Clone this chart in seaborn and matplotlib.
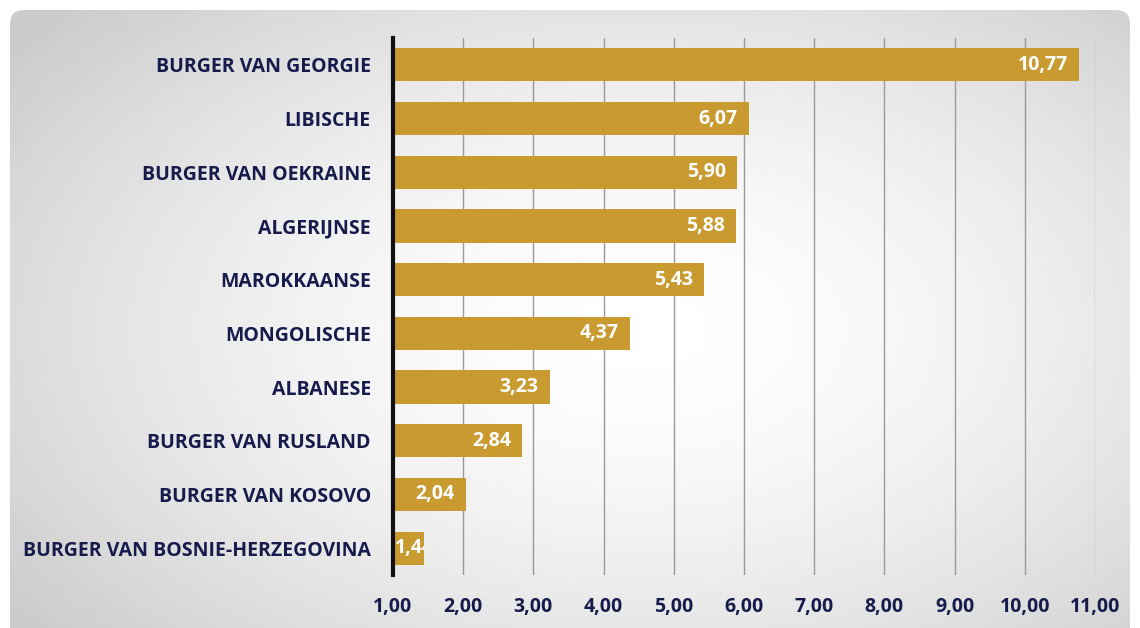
import numpy as np
import pandas as pd
import matplotlib
matplotlib.use("Agg")
import matplotlib.pyplot as plt
from matplotlib.patches import FancyBboxPatch
import seaborn as sns

# Data: naturalisation rates per nationality
categories = [
    "BURGER VAN GEORGIE",
    "LIBISCHE",
    "BURGER VAN OEKRAINE",
    "ALGERIJNSE",
    "MAROKKAANSE",
    "MONGOLISCHE",
    "ALBANESE",
    "BURGER VAN RUSLAND",
    "BURGER VAN KOSOVO",
    "BURGER VAN BOSNIE-HERZEGOVINA",
]
values = [10.77, 6.07, 5.90, 5.88, 5.43, 4.37, 3.23, 2.84, 2.04, 1.44]
x_ticks = [1, 2, 3, 4, 5, 6, 7, 8, 9, 10, 11]

BASE = 1.0
BAR_COLOR = "#C99A30"
TEXT_COLOR = "#161B4C"

sns.set_theme(style="white")
plt.rcParams["font.family"] = ["Open Sans", "DejaVu Sans"]

fig = plt.figure(figsize=(11.4, 6.28), dpi=100)
fig.patch.set_facecolor("white")

# Background panel with soft grey vignette and rounded corners
bg = fig.add_axes([0, 0, 1, 1], zorder=-10)
bg.set_xlim(0, 1140)
bg.set_ylim(628, 0)
bg.axis("off")
yy, xx = np.mgrid[0:628, 0:1140]
cx, cy = 640, 330
d = np.sqrt(((xx - cx) / 700.0) ** 2 + ((yy - cy) / 420.0) ** 2)
shade = np.clip(1.0 - 0.17 * d ** 1.6, 0.8, 1.0)
img = bg.imshow(shade, cmap="gray", vmin=0, vmax=1, extent=(0, 1140, 628, 0),
                interpolation="bilinear")
panel = FancyBboxPatch((10, 10), 1120, 640, boxstyle="round,pad=0,rounding_size=14",
                       transform=bg.transData, facecolor="none", edgecolor="none")
bg.add_patch(panel)
img.set_clip_path(panel)

ax = fig.add_axes([393 / 1140, 1 - 575 / 628, (1095 - 393) / 1140, (575 - 38) / 628])
ax.patch.set_alpha(0)

df = pd.DataFrame({"category": categories, "value": values})
df["length"] = df["value"] - BASE

sns.barplot(data=df, x="length", y="category", left=BASE, color=BAR_COLOR,
            width=0.62, saturation=1, linewidth=0, ax=ax, zorder=3)

ax.set_xlim(1, 11)
ax.set_ylim(9.5, -0.5)
ax.set_xticks(x_ticks)
ax.set_xticklabels([f"{t:.2f}".replace(".", ",") for t in x_ticks],
                   fontsize=14, fontweight="bold", color=TEXT_COLOR)
ax.tick_params(axis="x", length=0, pad=16)
ax.tick_params(axis="y", length=0, pad=16)
ax.set_yticks(range(len(categories)))
ax.set_yticklabels(categories, fontsize=14, fontweight="bold", color=TEXT_COLOR)
ax.set_xlabel("")
ax.set_ylabel("")

for t in x_ticks[1:]:
    ax.axvline(t, color="#9a9a9a", lw=1, zorder=1)

for s in ["top", "right", "bottom"]:
    ax.spines[s].set_visible(False)
ax.spines["left"].set_color("#111111")
ax.spines["left"].set_linewidth(3)
ax.spines["left"].set_zorder(5)

# Value labels inside the bar ends; short bars get the label clipped to the bar
for bar, v in zip(ax.patches, values):
    y = bar.get_y() + bar.get_height() / 2
    label = f"{v:.2f}".replace(".", ",")
    if v - BASE < 0.9:
        txt = ax.annotate(label, xy=(BASE, y), xytext=(1, 0),
                          textcoords="offset points", ha="left", va="center",
                          fontsize=14, fontweight="bold", color="white", zorder=4)
        txt.set_clip_path(bar)
    else:
        ax.annotate(label, xy=(v, y), xytext=(-8, 0),
                    textcoords="offset points", ha="right", va="center",
                    fontsize=14, fontweight="bold", color="white", zorder=4)

fig.savefig("out.png", dpi=100)
